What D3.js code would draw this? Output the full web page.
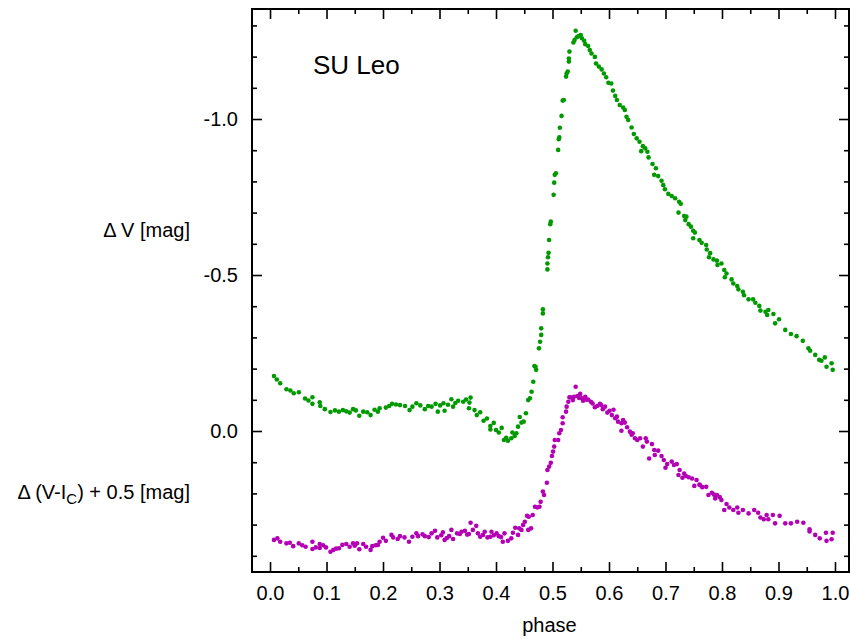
<!DOCTYPE html>
<html>
<head>
<meta charset="utf-8">
<script src="https://cdn.jsdelivr.net/npm/d3@7"></script>
<style>
  html, body { margin: 0; padding: 0; background: #fff; }
  svg { display: block; font-family: "Liberation Sans", Arial, Helvetica, sans-serif; }
</style>
</head>
<body>
<svg id="chart" width="850" height="639"></svg>
<script>
// SU Leo light curve: phase-folded V magnitudes and V-Ic colour (offset by +0.5)
const phaseV = [
  0.007,0.018,0.029,0.042,0.051,0.062,0.075,0.075,0.088,0.089,0.107,0.122,0.129,0.141,0.147,0.158,
  0.165,0.178,0.191,0.194,0.205,0.216,0.230,0.239,0.247,0.259,0.274,0.286,0.293,0.297,0.307,0.309,
  0.321,0.324,0.333,0.342,0.355,0.353,0.352,0.362,0.366,0.378,0.390,0.390,0.400,0.405,0.414,0.421,
  0.427,0.429,0.436,0.439,0.445,0.449,0.453,0.457,0.460,0.463,0.466,0.468,0.470,0.471,0.476,0.478,
  0.480,0.480,0.483,0.483,0.491,0.491,0.492,0.493,0.494,0.496,0.497,0.502,0.503,0.504,0.506,0.510,
  0.511,0.512,0.513,0.516,0.518,0.520,0.524,0.525,0.527,0.529,0.529,0.530,0.537,0.539,0.541,0.543,
  0.546,0.550,0.552,0.556,0.558,0.563,0.566,0.569,0.575,0.577,0.582,0.587,0.591,0.595,0.599,0.604,
  0.607,0.611,0.614,0.619,0.625,0.628,0.631,0.634,0.640,0.644,0.649,0.654,0.657,0.660,0.664,0.668,
  0.670,0.677,0.683,0.680,0.687,0.693,0.696,0.699,0.705,0.711,0.717,0.724,0.727,0.723,0.733,0.737,
  0.735,0.741,0.745,0.749,0.752,0.749,0.760,0.764,0.772,0.773,0.779,0.777,0.785,0.791,0.792,0.799,
  0.804,0.808,0.805,0.817,0.820,0.827,0.829,0.837,0.839,0.847,0.855,0.859,0.866,0.868,0.877,0.880,
  0.882,0.891,0.894,0.901,0.912,0.922,0.932,0.943,0.953,0.956,0.965,0.972,0.976,0.982,0.985,0.994,
  0.996,0.012,0.036,0.068,0.097,0.115,0.135,0.152,0.172,0.185,0.211,0.223,0.252,0.266,0.280,0.301,
  0.315,0.328,0.347,0.372,0.384,0.396,0.410,0.418,0.433,0.442
];
const deltaV = [
  -0.176,-0.153,-0.134,-0.121,-0.124,-0.104,-0.108,-0.087,-0.092,-0.080,-0.061,-0.062,-0.067,-0.059,-0.070,-0.049,
  -0.062,-0.051,-0.062,-0.073,-0.075,-0.087,-0.083,-0.080,-0.067,-0.089,-0.070,-0.078,-0.087,-0.062,-0.089,-0.065,
  -0.102,-0.078,-0.097,-0.094,-0.107,-0.091,-0.073,-0.067,-0.051,-0.033,-0.016,-0.005,-0.003,0.005,0.029,0.031,
  0.023,0.005,0.007,-0.014,-0.027,-0.030,-0.057,-0.099,-0.105,-0.126,-0.158,-0.208,-0.206,-0.196,-0.265,-0.286,
  -0.308,-0.329,-0.377,-0.390,-0.518,-0.537,-0.557,-0.571,-0.612,-0.663,-0.671,-0.757,-0.796,-0.821,-0.826,-0.901,
  -0.935,-0.941,-0.972,-1.010,-1.059,-1.061,-1.136,-1.146,-1.152,-1.184,-1.194,-1.216,-1.245,-1.253,-1.283,-1.262,
  -1.266,-1.269,-1.259,-1.251,-1.240,-1.234,-1.221,-1.210,-1.199,-1.178,-1.168,-1.159,-1.146,-1.134,-1.116,-1.114,
  -1.091,-1.074,-1.061,-1.045,-1.037,-1.029,-1.007,-0.997,-0.973,-0.952,-0.938,-0.927,-0.897,-0.913,-0.906,-0.895,
  -0.877,-0.856,-0.842,-0.821,-0.817,-0.802,-0.788,-0.775,-0.760,-0.753,-0.746,-0.735,-0.728,-0.700,-0.689,-0.687,
  -0.676,-0.663,-0.655,-0.642,-0.636,-0.618,-0.612,-0.603,-0.596,-0.582,-0.570,-0.557,-0.550,-0.546,-0.532,-0.537,
  -0.516,-0.505,-0.493,-0.486,-0.473,-0.465,-0.454,-0.446,-0.435,-0.422,-0.422,-0.411,-0.401,-0.386,-0.382,-0.372,
  -0.388,-0.375,-0.345,-0.358,-0.324,-0.311,-0.304,-0.289,-0.265,-0.257,-0.244,-0.228,-0.225,-0.236,-0.206,-0.217,
  -0.196,-0.165,-0.130,-0.098,-0.070,-0.066,-0.063,-0.066,-0.060,-0.068,-0.080,-0.085,-0.078,-0.082,-0.080,-0.082,
  -0.084,-0.090,-0.101,-0.060,-0.040,-0.026,-0.010,0.022,0.016,-0.045
];

const phaseC = [
  0.007,0.018,0.029,0.041,0.051,0.063,0.075,0.075,0.088,0.088,0.099,0.107,0.112,0.122,0.128,0.135,
  0.141,0.147,0.154,0.158,0.165,0.170,0.178,0.181,0.191,0.194,0.205,0.215,0.218,0.230,0.238,0.246,
  0.259,0.262,0.274,0.286,0.292,0.296,0.306,0.309,0.317,0.321,0.324,0.331,0.339,0.345,0.355,0.352,
  0.359,0.365,0.368,0.377,0.380,0.390,0.392,0.401,0.405,0.412,0.415,0.421,0.427,0.430,0.439,0.441,
  0.445,0.448,0.451,0.455,0.457,0.458,0.465,0.469,0.473,0.477,0.479,0.483,0.490,0.491,0.494,0.497,
  0.499,0.501,0.503,0.504,0.510,0.512,0.515,0.518,0.518,0.524,0.525,0.528,0.530,0.536,0.538,0.541,
  0.544,0.549,0.552,0.554,0.558,0.563,0.568,0.571,0.575,0.579,0.584,0.589,0.593,0.597,0.601,0.605,
  0.611,0.614,0.616,0.622,0.625,0.628,0.622,0.632,0.637,0.642,0.646,0.650,0.655,0.660,0.665,0.667,
  0.676,0.680,0.681,0.687,0.693,0.697,0.703,0.711,0.715,0.720,0.725,0.723,0.733,0.736,0.741,0.747,
  0.751,0.755,0.761,0.765,0.772,0.776,0.782,0.788,0.791,0.796,0.799,0.804,0.808,0.813,0.820,0.827,
  0.829,0.837,0.847,0.857,0.864,0.868,0.874,0.879,0.882,0.890,0.894,0.902,0.912,0.922,0.933,0.944,
  0.955,0.955,0.965,0.973,0.984,0.985,0.994,0.996,0.013,0.035,0.057,0.081,0.094,0.117,0.150,0.187,
  0.200,0.226,0.252,0.270,0.281,0.303,0.313,0.336,0.349,0.372,0.385,0.396,0.409,0.434,0.462,0.485,
  0.532,0.547,0.560,0.586,0.608,0.640,0.671,0.700,0.730,0.760,0.786
];
const deltaC = [
  0.349,0.355,0.360,0.369,0.360,0.371,0.355,0.378,0.362,0.375,0.373,0.387,0.381,0.376,0.365,0.362,
  0.371,0.360,0.360,0.379,0.362,0.371,0.381,0.369,0.365,0.355,0.352,0.333,0.341,0.337,0.341,0.355,
  0.328,0.337,0.337,0.328,0.320,0.341,0.325,0.349,0.337,0.317,0.346,0.328,0.323,0.320,0.294,0.330,
  0.317,0.304,0.328,0.333,0.323,0.339,0.323,0.328,0.337,0.355,0.328,0.352,0.344,0.326,0.333,0.312,
  0.317,0.301,0.291,0.272,0.317,0.275,0.269,0.243,0.245,0.243,0.227,0.194,0.166,0.125,0.114,0.102,
  0.080,0.066,0.050,0.029,0.029,0.007,-0.003,-0.025,-0.044,-0.062,-0.078,-0.094,-0.108,-0.099,-0.110,-0.142,
  -0.112,-0.119,-0.105,-0.097,-0.110,-0.101,-0.094,-0.088,-0.076,-0.080,-0.087,-0.070,-0.078,-0.059,-0.065,-0.051,
  -0.041,-0.046,-0.030,-0.025,-0.035,-0.027,-0.001,-0.012,0.002,0.007,0.023,0.029,0.023,0.050,0.023,0.034,
  0.042,0.061,0.077,0.063,0.080,0.093,0.106,0.098,0.109,0.106,0.125,0.141,0.136,0.144,0.148,0.152,
  0.176,0.157,0.173,0.180,0.179,0.205,0.198,0.216,0.205,0.212,0.221,0.253,0.234,0.245,0.253,0.245,
  0.262,0.253,0.264,0.253,0.262,0.277,0.283,0.269,0.283,0.269,0.296,0.272,0.296,0.296,0.291,0.294,
  0.315,0.322,0.333,0.344,0.326,0.352,0.347,0.326,0.344,0.358,0.366,0.373,0.366,0.377,0.368,0.366,
  0.342,0.346,0.339,0.331,0.340,0.334,0.343,0.330,0.332,0.339,0.341,0.334,0.340,0.310,0.312,0.205,
  -0.108,-0.106,-0.100,-0.083,-0.068,0.012,0.088,0.118,0.150,0.172,0.204
];

const xMajorTicks = [0.0, 0.1, 0.2, 0.3, 0.4, 0.5, 0.6, 0.7, 0.8, 0.9, 1.0];
const xMinorTicks = [0.05, 0.15, 0.25, 0.35, 0.45, 0.55, 0.65, 0.75, 0.85, 0.95];
const yMajorTicks = [-1.0, -0.5, 0.0];
const yMinorTicks = [-1.3, -1.2, -1.1, -0.9, -0.8, -0.7, -0.6, -0.4, -0.3, -0.2, -0.1, 0.1, 0.2, 0.3, 0.4];

const frame = { left: 252, right: 849, top: 9, bottom: 572 };
const svg = d3.select("#chart");

const x = d3.scaleLinear().domain([-0.0319, 1.0248]).range([frame.left, frame.right]);
const y = d3.scaleLinear().domain([-1.3526, 0.4519]).range([frame.top, frame.bottom]);

const fmt = d => d.toFixed(1);
const FONT = 20;

// ticks pointing into the plot on all four sides
function styleAxis(g) {
  g.select(".domain").remove();
  g.selectAll(".tick line").attr("stroke", "#000").attr("stroke-width", 1.6);
  g.selectAll(".tick text").attr("fill", "#000").attr("font-size", FONT);
}

svg.append("g").attr("transform", `translate(0,${frame.bottom})`)
  .call(d3.axisBottom(x).tickValues(xMajorTicks).tickSize(-10).tickPadding(14).tickFormat(fmt))
  .call(styleAxis).attr("font-family", null);
svg.append("g").attr("transform", `translate(0,${frame.bottom})`)
  .call(d3.axisBottom(x).tickValues(xMinorTicks).tickSize(-5).tickFormat(""))
  .call(styleAxis);
svg.append("g").attr("transform", `translate(0,${frame.top})`)
  .call(d3.axisTop(x).tickValues(xMajorTicks).tickSize(-10).tickFormat(""))
  .call(styleAxis);
svg.append("g").attr("transform", `translate(0,${frame.top})`)
  .call(d3.axisTop(x).tickValues(xMinorTicks).tickSize(-5).tickFormat(""))
  .call(styleAxis);

svg.append("g").attr("transform", `translate(${frame.left},0)`)
  .call(d3.axisLeft(y).tickValues(yMajorTicks).tickSize(-10).tickPadding(14).tickFormat(fmt))
  .call(styleAxis).attr("font-family", null);
svg.append("g").attr("transform", `translate(${frame.left},0)`)
  .call(d3.axisLeft(y).tickValues(yMinorTicks).tickSize(-5).tickFormat(""))
  .call(styleAxis);
svg.append("g").attr("transform", `translate(${frame.right},0)`)
  .call(d3.axisRight(y).tickValues(yMajorTicks).tickSize(-10).tickFormat(""))
  .call(styleAxis);
svg.append("g").attr("transform", `translate(${frame.right},0)`)
  .call(d3.axisRight(y).tickValues(yMinorTicks).tickSize(-5).tickFormat(""))
  .call(styleAxis);

// plot frame
svg.append("rect")
  .attr("x", frame.left).attr("y", frame.top)
  .attr("width", frame.right - frame.left).attr("height", frame.bottom - frame.top)
  .attr("fill", "none").attr("stroke", "#000").attr("stroke-width", 2);

// data points
const plot = svg.append("g");
plot.selectAll("circle.v")
  .data(d3.zip(phaseV, deltaV))
  .join("circle").attr("class", "v")
  .attr("cx", d => x(d[0])).attr("cy", d => y(d[1]))
  .attr("r", 2.3).attr("fill", "#009a00");
plot.selectAll("circle.c")
  .data(d3.zip(phaseC, deltaC))
  .join("circle").attr("class", "c")
  .attr("cx", d => x(d[0])).attr("cy", d => y(d[1]))
  .attr("r", 2.3).attr("fill", "#b400b4");

// labels
svg.append("text").attr("x", 313).attr("y", 74)
  .attr("font-size", 26).attr("fill", "#000").text("SU Leo");

svg.append("text").attr("x", (frame.left + frame.right) / 2 - 1).attr("y", 632)
  .attr("text-anchor", "middle").attr("font-size", FONT).attr("fill", "#000").text("phase");

svg.append("text").attr("x", 190).attr("y", 237)
  .attr("text-anchor", "end").attr("font-size", FONT).attr("fill", "#000").text("Δ V [mag]");

const lc = svg.append("text").attr("x", 190).attr("y", 499)
  .attr("text-anchor", "end").attr("font-size", FONT).attr("fill", "#000");
lc.append("tspan").text("Δ (V-I");
lc.append("tspan").attr("font-size", 15).attr("dy", 5).text("C");
lc.append("tspan").attr("dy", -5).text(") + 0.5 [mag]");
</script>
</body>
</html>
